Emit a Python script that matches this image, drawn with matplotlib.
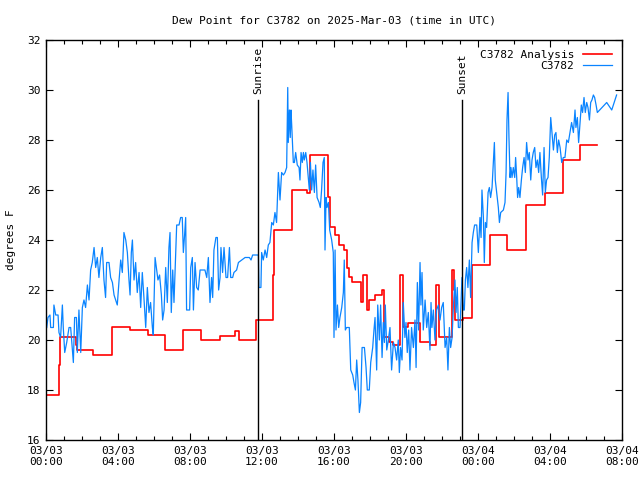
"""
Dew point for station C3782, observed vs analysis
"""

import numpy as np
import matplotlib
matplotlib.use("Agg")
import matplotlib.pyplot as plt
from matplotlib.ticker import MultipleLocator

# Analysis (hours since 2025-03-03 00:00 UTC, degrees F), drawn as steps
analysis_hours = [0.0, 0.72, 0.78, 1.65, 1.70, 2.60, 3.65, 4.65, 5.67, 6.60, 7.63,
                  8.60, 9.67, 10.50, 10.70, 11.65, 12.63, 12.68, 13.65, 14.50, 14.67,
                  15.65, 15.75, 16.05, 16.30, 16.55, 16.70, 16.85, 17.00, 17.50, 17.60,
                  17.85, 17.95, 18.30, 18.65, 18.80, 19.05, 19.30, 19.65, 19.85, 20.10,
                  20.80, 21.35, 21.65, 21.85, 22.55, 22.65, 22.72, 23.15, 23.65, 24.65,
                  25.62, 26.65, 27.70, 28.70, 29.65, 30.60]
analysis_vals = [17.8, 19.0, 20.1, 19.8, 19.6, 19.4, 20.5, 20.4, 20.2, 19.6, 20.4,
                 20.0, 20.15, 20.35, 20.0, 20.8, 22.6, 24.4, 26.0, 25.9, 27.4,
                 25.7, 24.5, 24.2, 23.8, 23.6, 22.9, 22.5, 22.3, 21.5, 22.6,
                 21.2, 21.6, 21.8, 22.0, 20.1, 19.9, 19.8, 22.6, 20.5, 20.7,
                 19.9, 19.8, 22.2, 20.1, 22.8, 22.0, 20.8, 20.9, 23.0, 24.2,
                 23.6, 25.4, 25.9, 27.2, 27.8, 27.8]

# Station observations
obs_hours = [0.04, 0.11, 0.22, 0.26, 0.41, 0.44, 0.54, 0.67, 0.72, 0.81, 0.91, 0.96,
             1.04, 1.15, 1.28, 1.37, 1.48, 1.52, 1.59, 1.69, 1.74, 1.83, 1.93, 2.02,
             2.11, 2.20, 2.30, 2.39, 2.48, 2.57, 2.67, 2.76, 2.85, 2.94, 3.04, 3.13,
             3.22, 3.31, 3.37, 3.50, 3.59, 3.69, 3.78, 3.87, 3.96, 4.06, 4.15, 4.24,
             4.33, 4.43, 4.52, 4.61, 4.67, 4.74, 4.80, 4.89, 4.98, 5.07, 5.17, 5.26,
             5.35, 5.44, 5.54, 5.63, 5.72, 5.81, 5.91, 5.96, 6.06, 6.15, 6.22, 6.31,
             6.41, 6.48, 6.56, 6.65, 6.74, 6.83, 6.89, 6.96, 7.04, 7.11, 7.26, 7.39,
             7.48, 7.57, 7.63, 7.70, 7.76, 7.81, 7.98, 8.04, 8.13, 8.19, 8.28, 8.37,
             8.46, 8.56, 8.83, 8.93, 9.02, 9.11, 9.20, 9.26, 9.33, 9.44, 9.52, 9.59,
             9.67, 9.72, 9.81, 9.89, 10.00, 10.09, 10.19, 10.26, 10.37, 10.44, 10.59,
             10.69, 10.87, 11.06, 11.15, 11.30, 11.39, 11.48, 11.70, 11.80, 11.83,
             11.94, 11.98, 12.07, 12.17, 12.26, 12.35, 12.44, 12.54, 12.63, 12.72,
             12.81, 12.91, 13.00, 13.09, 13.19, 13.28, 13.37, 13.43, 13.46, 13.52,
             13.57, 13.61, 13.65, 13.69, 13.74, 13.80, 13.87, 13.96, 14.06, 14.11,
             14.17, 14.24, 14.30, 14.35, 14.43, 14.50, 14.57, 14.63, 14.69, 14.76,
             14.83, 14.91, 14.98, 15.06, 15.17, 15.24, 15.31, 15.39, 15.46, 15.50,
             15.56, 15.61, 15.69, 15.76, 15.87, 15.96, 16.00, 16.06, 16.11, 16.19,
             16.26, 16.33, 16.43, 16.52, 16.57, 16.63, 16.70, 16.85, 16.93, 17.04,
             17.11, 17.19, 17.26, 17.33, 17.41, 17.48, 17.56, 17.69, 17.78, 17.85,
             17.96, 18.04, 18.15, 18.22, 18.28, 18.37, 18.43, 18.52, 18.59, 18.67,
             18.74, 18.80, 18.85, 18.93, 19.02, 19.11, 19.20, 19.30, 19.39, 19.48,
             19.57, 19.63, 19.70, 19.78, 19.85, 19.94, 20.00, 20.07, 20.15, 20.22,
             20.31, 20.41, 20.50, 20.56, 20.63, 20.70, 20.78, 20.83, 20.89, 20.96,
             21.06, 21.15, 21.24, 21.33, 21.39, 21.44, 21.52, 21.61, 21.70, 21.80,
             21.89, 21.98, 22.07, 22.17, 22.26, 22.33, 22.41, 22.48, 22.56, 22.63,
             22.72, 22.78, 22.85, 22.91, 23.00, 23.06, 23.11, 23.19, 23.24, 23.30,
             23.37, 23.44, 23.52, 23.59, 23.67, 23.74, 23.81, 23.93, 24.02, 24.11,
             24.17, 24.22, 24.30, 24.35, 24.41, 24.48, 24.56, 24.63, 24.70, 24.78,
             24.85, 24.91, 24.96, 25.04, 25.13, 25.19, 25.26, 25.41, 25.50, 25.56,
             25.61, 25.67, 25.72, 25.78, 25.83, 25.89, 25.96, 26.04, 26.09, 26.15,
             26.20, 26.26, 26.33, 26.41, 26.48, 26.56, 26.63, 26.70, 26.78, 26.85,
             26.93, 27.00, 27.07, 27.15, 27.22, 27.30, 27.37, 27.44, 27.52, 27.59,
             27.67, 27.74, 27.81, 27.89, 27.96, 28.04, 28.11, 28.19, 28.26, 28.33,
             28.41, 28.48, 28.56, 28.65, 28.74, 28.83, 28.93, 29.02, 29.11, 29.20,
             29.30, 29.39, 29.44, 29.52, 29.59, 29.67, 29.74, 29.81, 29.89, 29.96,
             30.04, 30.11, 30.19, 30.26, 30.33, 30.41, 30.48, 30.56, 30.63, 31.15,
             31.43, 31.70]
obs_vals = [20.5, 20.9, 21.0, 20.5, 20.5, 21.4, 21.0, 21.0, 20.3, 20.1, 21.4, 20.5,
            19.5, 19.9, 20.5, 20.5, 19.5, 19.1, 20.9, 20.9, 19.5, 21.2, 19.5, 21.3,
            21.6, 21.3, 22.2, 21.6, 22.8, 23.1, 23.7, 22.9, 23.3, 22.5, 23.3, 23.7,
            22.4, 21.7, 23.1, 23.1, 22.5, 22.3, 21.8, 21.6, 21.4, 22.4, 23.2, 22.7,
            24.3, 24.0, 23.5, 22.4, 21.8, 23.5, 24.0, 22.4, 23.1, 21.9, 22.7, 21.3,
            22.7, 21.7, 20.5, 22.1, 21.1, 21.5, 20.5, 20.2, 23.3, 22.8, 22.4, 22.6,
            21.8, 20.8, 21.2, 22.9, 21.5, 23.7, 24.3, 21.1, 22.8, 21.5, 24.6, 24.6,
            24.9, 24.9, 23.5, 24.2, 24.9, 21.2, 21.2, 22.9, 23.3, 21.2, 23.1, 22.1,
            22.0, 22.8, 22.8, 22.5, 23.3, 21.5, 22.5, 21.7, 23.6, 24.1, 24.1, 22.0,
            22.5, 23.7, 22.7, 23.7, 22.5, 22.5, 23.7, 22.5, 22.5, 22.7, 22.8,
            23.1, 23.2, 23.3, 23.3, 23.3, 23.2, 23.4, 23.4, 23.4, 22.1,
            22.1, 23.5, 23.2, 23.6, 23.3, 23.8, 23.9, 24.7, 24.6, 25.1,
            24.7, 26.7, 25.6, 26.7, 26.6, 26.7, 26.9, 30.1, 27.9, 29.2,
            28.1, 29.2, 28.6, 27.9, 27.1, 27.1, 27.5, 27.0, 26.9, 26.4,
            27.5, 27.1, 27.5, 27.2, 27.5, 27.1, 26.5, 26.0, 27.1, 26.0,
            26.8, 25.9, 27.0, 25.7, 25.5, 25.3, 26.0, 27.1, 27.3, 23.6,
            25.7, 25.3, 25.5, 24.4, 24.0, 23.5, 20.1, 23.6, 20.4, 21.4,
            20.5, 20.9, 21.3, 21.9, 23.2, 20.4, 20.5, 20.5, 18.8, 18.6,
            18.3, 18.0, 19.2, 18.4, 17.1, 17.5, 19.7, 19.7, 18.9, 18.0,
            18.0, 19.1, 19.7, 20.4, 20.9, 18.8, 21.4, 20.0, 21.4, 19.3,
            20.7, 19.9, 21.4, 19.6, 20.0, 20.5, 18.8, 19.9, 19.7, 19.2,
            20.0, 18.7, 19.7, 19.2, 21.5, 20.1, 20.7, 19.5, 20.4, 18.8,
            20.5, 19.7, 20.8, 18.9, 22.3, 20.4, 23.1, 21.4, 22.7, 20.4,
            21.6, 20.5, 21.1, 19.6, 21.5, 20.5, 21.2, 20.0, 21.2, 21.4,
            20.8, 21.3, 21.5, 19.7, 20.1, 18.8, 20.5, 19.7, 20.1, 21.3,
            22.4, 21.1, 22.1, 20.5, 20.5, 21.6, 22.5, 21.2, 21.2, 22.4,
            22.9, 22.1, 23.2, 21.7, 23.9, 24.3, 24.6, 24.6, 23.5, 24.9,
            24.1, 26.0, 24.9, 23.1, 24.7, 24.5, 25.9, 26.1, 25.7, 26.1,
            27.1, 27.9, 26.4, 25.9, 25.3, 24.7, 25.1, 25.2, 25.5, 26.7,
            28.8, 29.9, 28.1, 26.5, 26.9, 26.5, 26.9, 26.5, 27.3, 26.5,
            25.7, 26.1, 25.7, 26.4, 26.9, 27.3, 26.7, 27.9, 27.2, 27.5,
            26.4, 27.2, 27.5, 27.7, 26.9, 27.2, 26.7, 27.5, 26.5, 25.8,
            27.7, 25.9, 26.4, 26.5, 27.3, 28.9, 28.3, 27.6, 28.2, 28.3,
            27.5, 28.0, 27.7, 27.1, 27.3, 27.3, 28.0, 27.9, 28.3, 28.7,
            28.3, 29.2, 28.5, 28.9, 27.9, 28.7, 29.4, 29.1, 29.7, 29.1,
            29.5, 29.3, 28.8, 29.5, 29.6, 29.8, 29.7, 29.4, 29.1, 29.5,
            29.2, 29.8]

# Sun events (hours)
sun_hours = [11.78, 23.11]
sun_labels = ["Sunrise", "Sunset"]

tick_hours = [0, 4, 8, 12, 16, 20, 24, 28, 32]
tick_labels = ["03/03\n00:00", "03/03\n04:00", "03/03\n08:00", "03/03\n12:00",
               "03/03\n16:00", "03/03\n20:00", "03/04\n00:00", "03/04\n04:00",
               "03/04\n08:00"]

plt.rcParams['font.family'] = 'DejaVu Sans Mono'
plt.rcParams['font.size'] = 8

fig = plt.figure(figsize=(6.4, 4.8), dpi=100)
ax = fig.add_axes([46 / 640, 40 / 480, 576 / 640, 400 / 480])

ax.plot(analysis_hours, analysis_vals, color='#ff0000', lw=1.2,
        drawstyle='steps-post', label='C3782 Analysis')
ax.plot(obs_hours, obs_vals, color='#0a84ff', lw=0.9, label='C3782')

# Sunrise / sunset markers
for h, lab in zip(sun_hours, sun_labels):
    ax.plot([h, h], [16, 29.6], color='black', lw=1.0)
    ax.text(h, 29.85, lab, rotation=90, ha='center', va='bottom', fontsize=8)

ax.set_xlim(0, 32)
ax.set_ylim(16, 32)
ax.set_xticks(tick_hours)
ax.set_xticklabels(tick_labels)
ax.xaxis.set_minor_locator(MultipleLocator(1))
ax.yaxis.set_major_locator(MultipleLocator(2))
ax.tick_params(which='both', direction='in', top=True, right=True, width=0.8)
ax.tick_params(which='major', length=5, pad=4)
ax.tick_params(which='minor', length=3)
for s in ax.spines.values():
    s.set_linewidth(1.0)

ax.set_ylabel('degrees F', labelpad=8)
ax.set_title('Dew Point for C3782 on 2025-Mar-03 (time in UTC)', fontsize=8, pad=12)

ax.legend(loc='upper right', frameon=False, markerfirst=False, handlelength=2.6,
          borderaxespad=0.5, labelspacing=0.1, handletextpad=0.8)

fig.savefig('out.png', dpi=100)
